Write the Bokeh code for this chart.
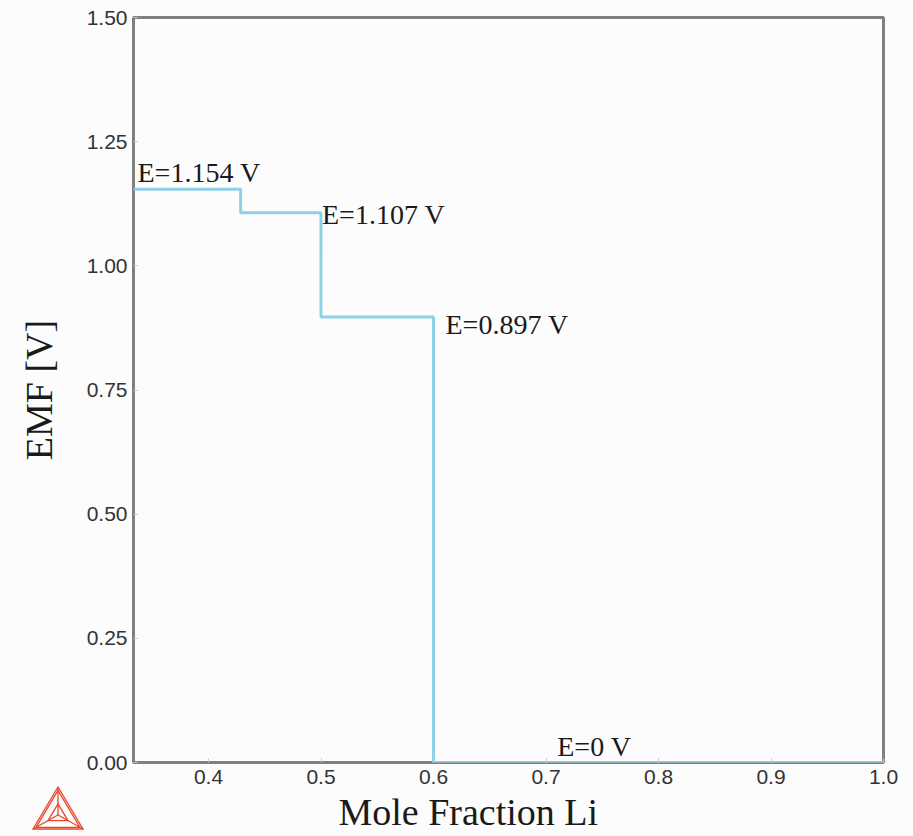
from bokeh.plotting import figure
from bokeh.layouts import column
from bokeh.embed import file_html
from bokeh.resources import INLINE
from bokeh.models import FixedTicker, Range1d, ColumnDataSource, Title, Div
from bokeh.core.properties import value

# ---- data ----
phase_boundaries = [1/3, 3/7, 0.5, 0.6, 1.0]    # mole fraction Li
emf_plateaus = [1.154, 1.107, 0.897, 0.0]        # V
label_texts = ["E=1.154 V", "E=1.107 V", "E=0.897 V", "E=0 V"]
label_x = [1/3, 0.5, 0.6, 0.71]
label_y = [1.154, 1.107, 0.897, 0.0]
x_ticks = [0.4, 0.5, 0.6, 0.7, 0.8, 0.9, 1.0]
y_ticks = [0.0, 0.25, 0.5, 0.75, 1.0, 1.25, 1.5]

# build step line
xs, ys = [], []
for i, e in enumerate(emf_plateaus):
    xs += [phase_boundaries[i], phase_boundaries[i + 1]]
    ys += [e, e]

BG = "#fcfcfc"
p = figure(width=913, height=836, output_backend="svg", toolbar_location=None,
           x_range=Range1d(1/3, 1.0), y_range=Range1d(0, 1.5),
           frame_width=750, frame_height=745,
           min_border_left=133, min_border_right=30, min_border_top=17, min_border_bottom=74)
p.background_fill_color = BG
p.border_fill_color = BG
p.outline_line_color = "#808080"
p.outline_line_width = 3
p.grid.visible = False

p.line(xs, ys, line_color="#8fd0e6", line_width=3)

src = ColumnDataSource(dict(x=label_x, y=label_y, t=label_texts,
                            xo=[4, 1, 12, 0], yo=[-17, 2, 8, -16]))
p.text(x="x", y="y", text="t", x_offset="xo", y_offset="yo", source=src,
       text_font=value("Liberation Serif"), text_font_size="28px",
       text_color="#1a1a1a", text_baseline="alphabetic", text_align="left")

for ax in (p.xaxis[0], p.yaxis[0]):
    ax.axis_line_color = None
    ax.major_tick_in = 4
    ax.major_tick_out = 0
    ax.minor_tick_line_color = None
    ax.major_tick_line_color = "#c8c8c8"
    ax.major_label_text_font = "Liberation Sans"
    ax.major_label_text_font_size = "21px"
    ax.major_label_text_color = "#333333"
    ax.axis_label_text_font = "Liberation Serif"
    ax.axis_label_text_font_style = "normal"
    ax.axis_label_text_color = "#1a1a1a"
    ax.axis_label_text_font_size = "38px"

p.xaxis.ticker = FixedTicker(ticks=x_ticks)
p.yaxis.ticker = FixedTicker(ticks=y_ticks)
p.xaxis.major_label_overrides = {t: f"{t:.1f}" for t in x_ticks}
p.yaxis.major_label_overrides = {t: f"{t:.2f}" for t in y_ticks}
p.yaxis.axis_label = "EMF [V]"
p.xaxis.major_label_standoff = 7
p.yaxis.major_label_standoff = 6
p.yaxis.axis_label_standoff = 24

# x-axis title (sits left of frame centre in the reference)
p.add_layout(Title(text="Mole Fraction Li", align="left", offset=205,
                   text_font="Liberation Serif", text_font_style="normal",
                   text_font_size="38px", text_color="#1a1a1a", standoff=4), "below")

# ---- logo (decoration) ----
LOGO = "#e8472a"
logo_svg = (
    '<svg xmlns="http://www.w3.org/2000/svg" width="56" height="48" viewBox="0 0 56 48">'
    f'<g fill="none" stroke="{LOGO}" stroke-width="1.3" stroke-linejoin="miter">'
    '<polygon points="28,3 3,45 53,45"/>'
    '<polygon points="28,6.4 6,43.3 50,43.3"/>'
    '<polygon points="28,19.8 18,36.6 38,36.6"/>'
    '<line x1="28" y1="3" x2="28" y2="31"/>'
    '<line x1="3" y1="45" x2="28" y2="31"/>'
    '<line x1="53" y1="45" x2="28" y2="31"/>'
    '</g></svg>'
)
logo = Div(text=logo_svg, width=56, height=48,
           styles={"position": "absolute", "left": "30px", "top": "784px",
                   "margin": "0", "padding": "0"})

layout = column(p, logo, styles={"position": "relative"})
open("out.html", "w").write(file_html(layout, INLINE))
